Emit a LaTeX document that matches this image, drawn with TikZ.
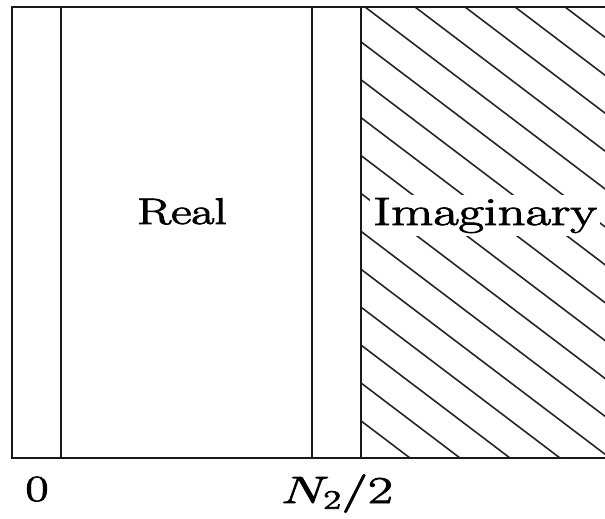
\RequirePackage{fix-cm}
\documentclass[tikz,border=0pt]{standalone}
\newcommand\heavytext[1]{\special{pdf:literal direct q 2 Tr 0.8 w}#1\special{pdf:literal direct Q}}
\begin{document}
\begin{tikzpicture}[x=1pt,y=-1pt,
  frame/.style={line width=2pt,black!90},
  hatch/.style={line width=1.6pt,black!85},
  lbl/.style={inner sep=0pt,font=\fontsize{37}{44}\selectfont}]
\useasboundingbox (0,0) rectangle (605,519);
% hatching in the imaginary part
\begin{scope}
  \clip (362,8) rectangle (605,457);
  \foreach \k in {-10,...,18}
    \draw[hatch] ({410+50*\k},458) -- ({410+50*\k-700},{458-530.6});
\end{scope}
% frame
\draw[frame] (605,7) -- (12,7) -- (12,458) -- (605,458);
\draw[frame] (61,7) -- (61,458);
\draw[frame] (312,7) -- (312,458);
\draw[frame] (361,7) -- (361,458);
% texts
\node[lbl,anchor=base] (real) at (182,224) {\heavytext{\scalebox{1.35}[1]{Real}}};
\node[lbl,anchor=base,fill=white,inner sep=3pt,font=\fontsize{39.5}{46}\selectfont] (imag) at (485,225) {\heavytext{\scalebox{1.39}[1]{Imaginary}}};
\node[lbl,anchor=base] (zero) at (37,501) {\heavytext{\scalebox{1.36}[1]{0}}};
\node[lbl,anchor=base,font=\fontsize{38}{44}\selectfont] (half) at (337,503) {\heavytext{\scalebox{1.42}[1]{$N_2/2$}}};
\end{tikzpicture}
\end{document}
